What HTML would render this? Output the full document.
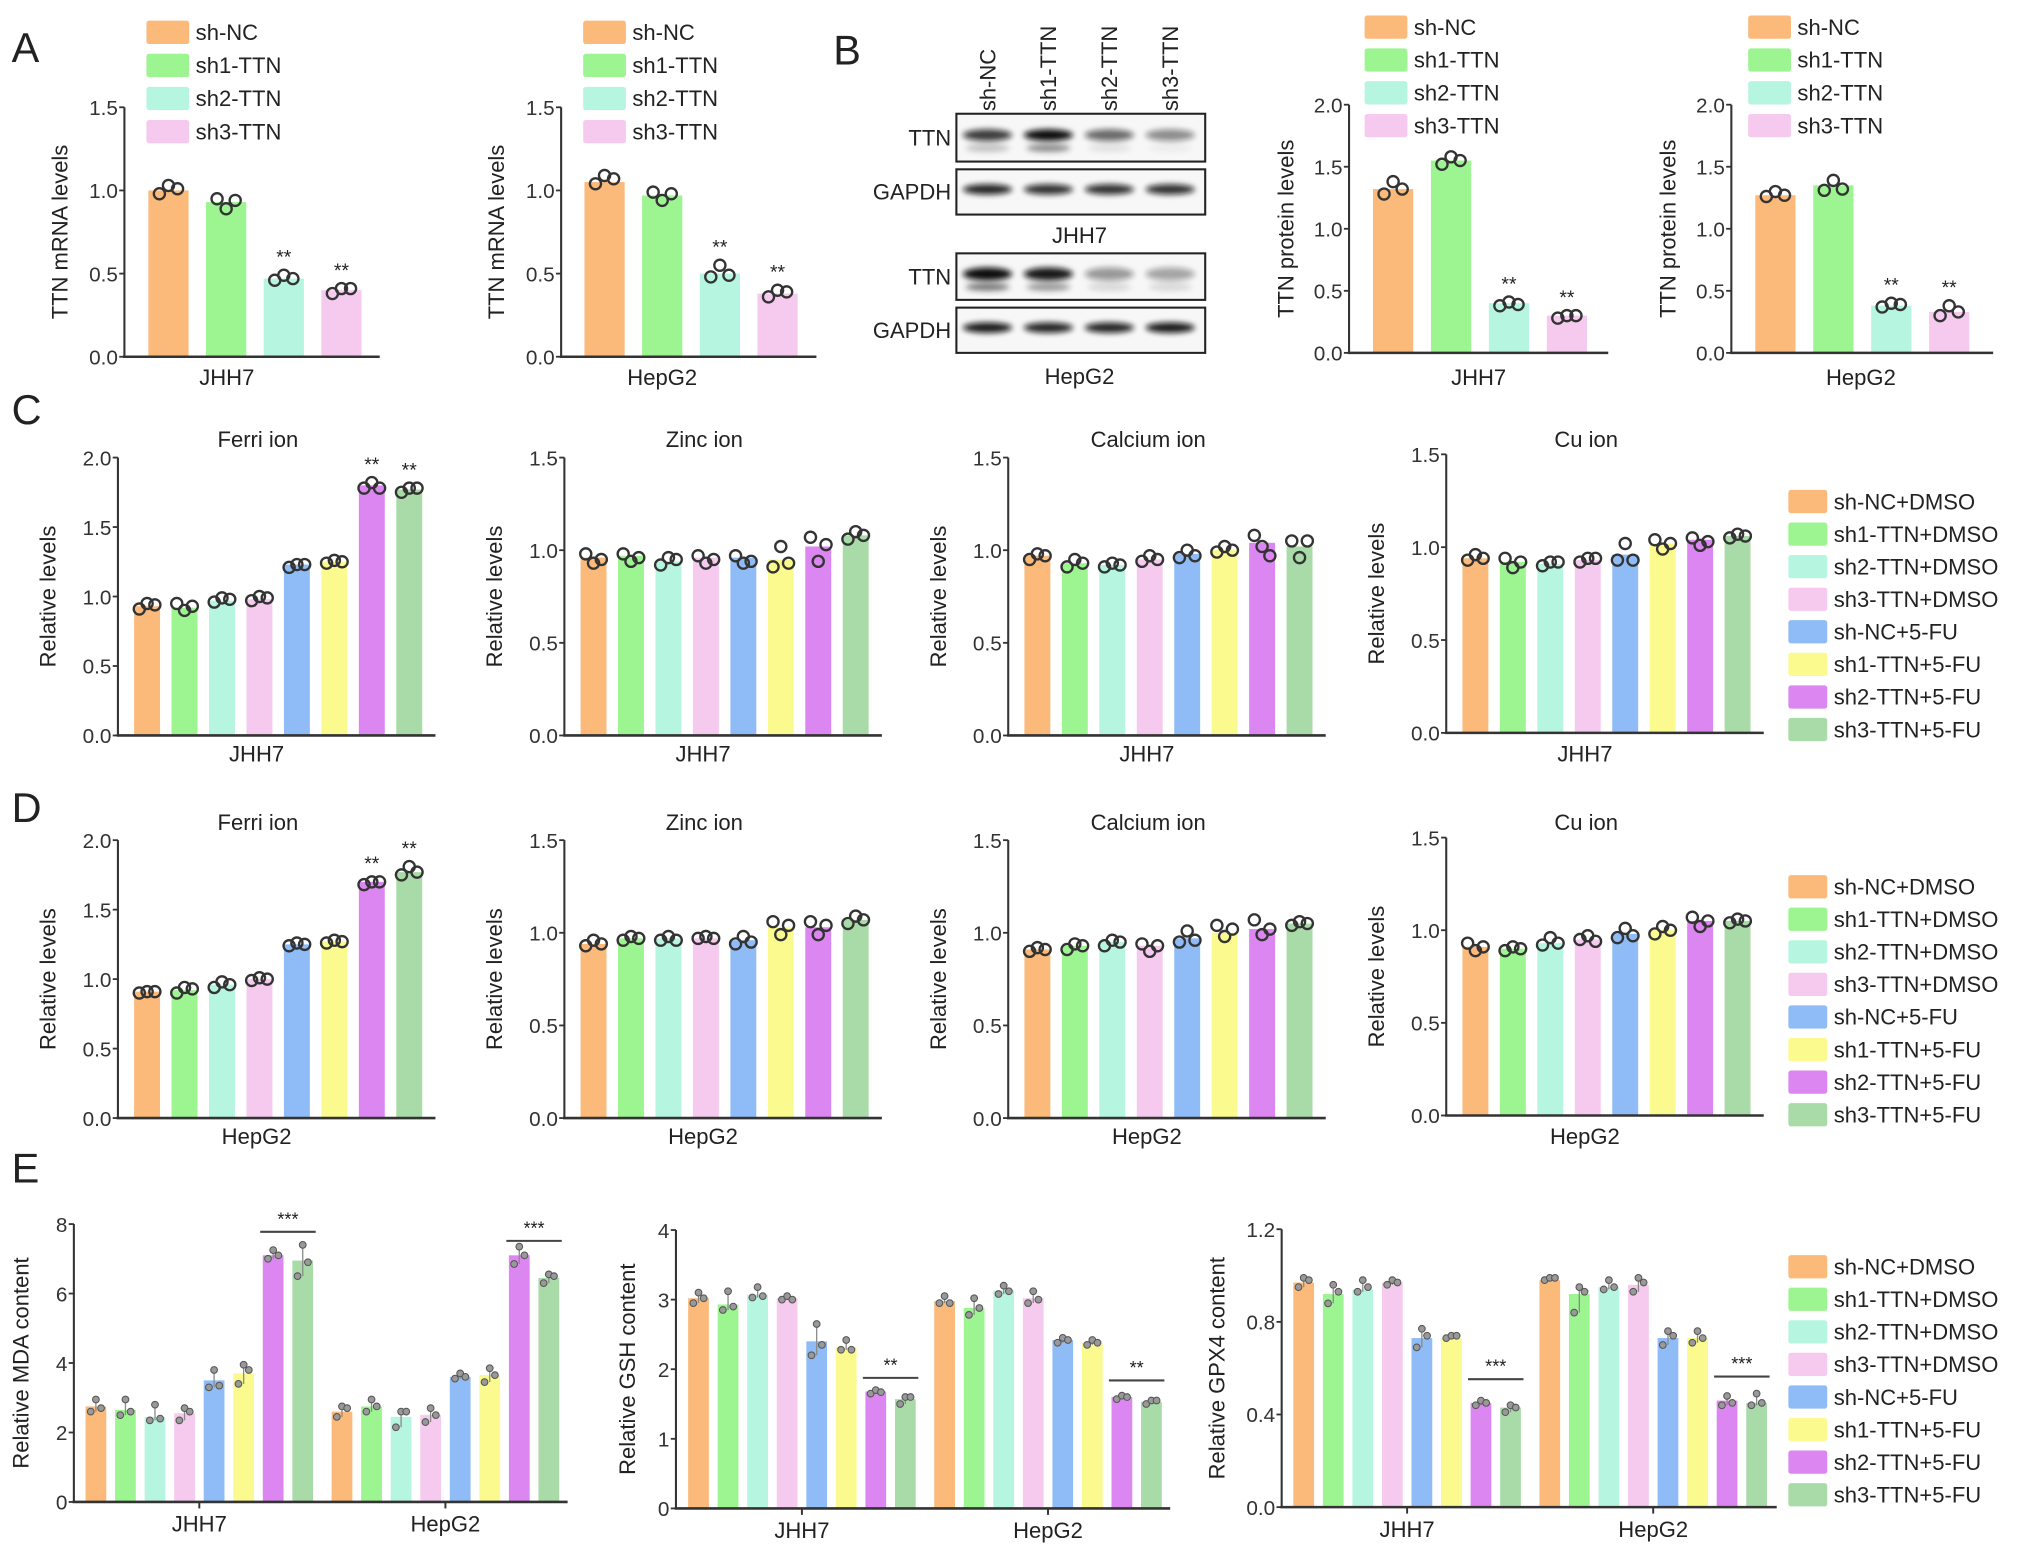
<!DOCTYPE html>
<html><head><meta charset="utf-8"><style>
html,body{margin:0;padding:0;background:#fff;}
svg{display:block;font-family:"Liberation Sans",Arial,sans-serif;}
</style></head><body>
<svg id="fig" width="2032" height="1564" viewBox="0 0 1568 1210" preserveAspectRatio="none" xmlns="http://www.w3.org/2000/svg">
<defs><filter id="blur" x="-30%" y="-80%" width="160%" height="260%"><feGaussianBlur stdDeviation="2.2"/></filter></defs>
</svg>
<script>
// ---------- data ----------
const groups4 = ["sh-NC","sh1-TTN","sh2-TTN","sh3-TTN"];
const groups8 = ["sh-NC+DMSO","sh1-TTN+DMSO","sh2-TTN+DMSO","sh3-TTN+DMSO","sh-NC+5-FU","sh1-TTN+5-FU","sh2-TTN+5-FU","sh3-TTN+5-FU"];
const colors = ["#fbb97a","#9cf590","#b6f5e0","#f6c9ef","#8fbcf6","#fafa8e","#dc86f2","#a9dba8"];

const aJHH7 = [1.0,0.93,0.47,0.40];
const aJHH7Pts = [[0.98,1.03,1.01],[0.95,0.89,0.94],[0.46,0.49,0.47],[0.38,0.41,0.41]];
const aHepG2 = [1.05,0.97,0.50,0.38];
const aHepG2Pts = [[1.04,1.09,1.07],[0.99,0.94,0.98],[0.48,0.55,0.49],[0.36,0.40,0.39]];
const bJHH7 = [1.32,1.55,0.40,0.30];
const bJHH7Pts = [[1.28,1.38,1.32],[1.52,1.58,1.55],[0.38,0.41,0.39],[0.28,0.30,0.30]];
const bHepG2 = [1.27,1.35,0.38,0.33];
const bHepG2Pts = [[1.26,1.30,1.27],[1.31,1.39,1.32],[0.37,0.40,0.39],[0.30,0.38,0.33]];

const cFerri = [0.93,0.92,0.97,0.98,1.23,1.25,1.80,1.77];
const cFerriPts = [[0.91,0.95,0.94],[0.95,0.90,0.93],[0.96,0.99,0.98],[0.97,1.00,0.99],[1.21,1.23,1.23],[1.24,1.26,1.25],[1.78,1.82,1.78],[1.75,1.78,1.78]];
const cZinc = [0.96,0.97,0.94,0.96,0.96,0.95,1.02,1.08];
const cZincPts = [[0.98,0.93,0.95],[0.98,0.94,0.96],[0.92,0.96,0.95],[0.97,0.93,0.95],[0.97,0.93,0.94],[0.91,1.02,0.93],[1.07,0.94,1.03],[1.06,1.10,1.08]];
const cCalcium = [0.97,0.93,0.92,0.95,0.98,1.00,1.04,1.02];
const cCalciumPts = [[0.95,0.98,0.97],[0.91,0.95,0.93],[0.91,0.93,0.92],[0.94,0.97,0.95],[0.96,1.00,0.97],[0.99,1.02,1.00],[1.08,1.02,0.97],[1.05,0.96,1.05]];
const cCu = [0.94,0.92,0.91,0.93,0.96,1.02,1.04,1.06];
const cCuPts = [[0.93,0.96,0.94],[0.94,0.89,0.92],[0.90,0.92,0.92],[0.92,0.94,0.94],[0.93,1.02,0.93],[1.04,0.99,1.02],[1.05,1.01,1.03],[1.05,1.07,1.06]];

const dFerri = [0.91,0.92,0.96,1.00,1.25,1.27,1.70,1.77];
const dFerriPts = [[0.90,0.91,0.91],[0.90,0.94,0.93],[0.94,0.98,0.96],[0.99,1.01,1.00],[1.24,1.26,1.25],[1.26,1.28,1.27],[1.68,1.70,1.70],[1.75,1.81,1.77]];
const dZinc = [0.94,0.97,0.97,0.97,0.96,1.03,1.03,1.07];
const dZincPts = [[0.93,0.96,0.94],[0.96,0.98,0.97],[0.96,0.98,0.96],[0.97,0.98,0.97],[0.94,0.98,0.95],[1.06,0.99,1.04],[1.06,0.99,1.04],[1.05,1.09,1.07]];
const dCalcium = [0.91,0.93,0.95,0.93,0.97,1.00,1.02,1.05];
const dCalciumPts = [[0.90,0.92,0.91],[0.91,0.94,0.93],[0.93,0.96,0.95],[0.94,0.90,0.93],[0.95,1.01,0.96],[1.04,0.98,1.02],[1.07,0.99,1.02],[1.04,1.06,1.05]];
const dCu = [0.91,0.90,0.93,0.95,0.98,1.00,1.05,1.05];
const dCuPts = [[0.93,0.89,0.91],[0.89,0.91,0.90],[0.92,0.96,0.93],[0.95,0.97,0.94],[0.96,1.01,0.97],[0.98,1.02,1.00],[1.07,1.02,1.05],[1.04,1.06,1.05]];

const eMDA = [2.75,2.65,2.45,2.55,3.50,3.70,7.10,6.95, 2.60,2.75,2.45,2.50,3.60,3.65,7.10,6.45];
const eMDAPts = [[2.6,2.95,2.7],[2.5,2.95,2.6],[2.35,2.8,2.4],[2.35,2.7,2.6],[3.3,3.8,3.35],[3.4,3.95,3.8],[7.0,7.25,7.1],[6.5,7.4,6.9],[2.45,2.75,2.7],[2.6,2.95,2.75],[2.15,2.6,2.6],[2.3,2.7,2.5],[3.55,3.7,3.6],[3.45,3.85,3.65],[6.85,7.35,7.1],[6.3,6.55,6.5]];
const eGSH = [3.02,2.93,3.07,3.02,2.40,2.32,1.68,1.57, 2.98,2.88,3.13,3.02,2.42,2.38,1.60,1.53];
const eGSHPts = [[2.95,3.1,3.02],[2.85,3.12,2.9],[3.03,3.18,3.05],[3.0,3.05,3.0],[2.2,2.65,2.35],[2.28,2.42,2.28],[1.65,1.7,1.67],[1.5,1.6,1.6],[2.95,3.05,2.95],[2.78,3.02,2.88],[3.08,3.2,3.12],[2.95,3.12,3.0],[2.38,2.45,2.42],[2.35,2.42,2.38],[1.57,1.62,1.6],[1.5,1.55,1.55]];
const eGPX4 = [0.97,0.92,0.94,0.97,0.73,0.73,0.45,0.43, 0.98,0.92,0.95,0.96,0.73,0.73,0.46,0.45];
const eGPX4Pts = [[0.95,0.99,0.98],[0.88,0.96,0.93],[0.93,0.98,0.95],[0.96,0.98,0.97],[0.69,0.77,0.74],[0.73,0.74,0.74],[0.44,0.46,0.45],[0.41,0.44,0.43],[0.98,0.99,0.99],[0.84,0.95,0.93],[0.94,0.98,0.95],[0.93,0.99,0.97],[0.70,0.76,0.74],[0.71,0.76,0.73],[0.44,0.48,0.45],[0.44,0.49,0.45]];

const ticks15 = [0,0.5,1.0,1.5];
const ticks20 = [0,0.5,1.0,1.5,2.0];
const ticksMDA = [0,2,4,6,8];
const ticksGSH = [0,1,2,3,4];
const ticksGPX4 = [0,0.4,0.8,1.2];
const xCats = ["JHH7","HepG2"];

// ---------- helpers ----------
const NS = "http://www.w3.org/2000/svg";
const svg = document.getElementById("fig");
function mk(tag, attrs, parent){
  const e = document.createElementNS(NS, tag);
  for (const k in attrs) e.setAttribute(k, attrs[k]);
  (parent || svg).appendChild(e);
  return e;
}
function tx(str, x, y, size, anchor, parent, extra){
  const a = {x:x, y:y, "font-size":size, "text-anchor":anchor||"middle", fill:"#222"};
  if (extra) for (const k in extra) a[k] = extra[k];
  const t = mk("text", a, parent);
  t.textContent = str;
  return t;
}
function fmt(v, dec){ return dec === 0 ? String(v) : v.toFixed(dec); }

function chart(c){
  const g = mk("g", {});
  
  
  const Y = v => c.yBot - v / c.max * (c.yBot - c.yTop);
  const X = i => c.first + i * c.step + (i >= 8 ? c.gap : 0);
  const ya = mk("line", {x1:c.ax, y1:c.yTop, x2:c.ax, y2:c.yBot, stroke:"#333", "stroke-width":1.6}, g);
  
  
  c.ticks.forEach(t => {
    mk("line", {x1:c.ax-4, y1:Y(t), x2:c.ax, y2:Y(t), stroke:"#333", "stroke-width":1.4}, g);
    const tl = tx(fmt(t, c.dec), c.ax-5, Y(t)+6, 16, "end", g, {fill:"#333"});
    
    
  });
  c.values.forEach((v, i) => {
    const b = mk("rect", {x:X(i)-c.bw/2, y:Y(v), width:c.bw, height:c.yBot-Y(v), fill:c.colors[i % c.colors.length]}, g);
    
    
  });
  c.pts.forEach((p, i) => {
    if (c.small) {
      const mn = Math.min(...p), mxv = Math.max(...p);
      mk("line", {x1:X(i), y1:Y(mn), x2:X(i), y2:Y(mxv), stroke:"#8a8a8a", "stroke-width":1}, g);
    }
    p.forEach((v, j) => {
      const off = (j - 1) * c.dx;
      const yy = Y(v);
      const d = c.small
        ? mk("circle", {cx:X(i)+off, cy:yy, r:2.6, fill:"#999", stroke:"#555", "stroke-width":0.8}, g)
        : mk("circle", {cx:X(i)+off, cy:yy, r:4.3, fill:"none", stroke:"#333", "stroke-width":1.8}, g);
      
      
    });
  });
  (c.stars || []).forEach(i => {
    const top = Math.max(...c.pts[i]);
    const s = tx("**", X(i), Y(top) - 9, 15, "middle", g);
    
    
  });
  const xa = mk("line", {x1:c.ax-1, y1:c.yBot, x2:c.end, y2:c.yBot, stroke:"#333", "stroke-width":2}, g);
  
  
  if (c.grouped) {
    [0, 1].forEach(k => {
      const cx = (X(k*8) + X(k*8+7)) / 2;
      mk("line", {x1:cx, y1:c.yBot, x2:cx, y2:c.yBot+5, stroke:"#333", "stroke-width":1.5}, g);
      const l = tx(xCats[k], cx, c.xlY, 17, "middle", g);
      
      
    });
  } else {
    const l = tx(c.xlabel, c.xlX, c.xlY, 17, "middle", g);
    
    
  }
  const yl = tx(c.ylabel, 0, 0, 17, "middle", g, {transform:"translate(" + c.ylX + "," + ((c.yTop + c.yBot)/2) + ") rotate(-90)"});
  
  
  if (c.title) {
    const tt = tx(c.title, c.titleX, c.titleY, 17, "middle", g);
    
    
  }
  (c.sig || []).forEach(s => {
    const x1 = X(s.i) - c.bw/2 - 2, x2 = X(s.i+1) + c.bw/2 + 2;
    mk("line", {x1:x1, y1:s.y, x2:x2, y2:s.y, stroke:"#444", "stroke-width":1.6}, g);
    const st = tx(s.t, (x1+x2)/2, s.y - 5, 14, "middle", g);
    
    
  });
  return g;
}

function legend(x, y, dy, sw, labels, cols, name){
  const g = mk("g", {});
  
  
  labels.forEach((l, i) => {
    const r = mk("rect", {x:x, y:y + i*dy - 9, width:sw, height:18, rx:2, fill:cols[i]}, g);
    
    
    const t = tx(l, x + sw + 5, y + i*dy + 6, 17, "start", g);
    
    
  });
}

function letter(s, x, y){
  const t = tx(s, x, y, 32, "start", svg);
  
  
}

letter("A", 9, 48); letter("B", 643, 50); letter("C", 9, 328); letter("D", 9, 636); letter("E", 9, 915);

// ---------- panel A ----------
chart({name:"chart-a-jhh7", ax:96, yTop:83, yBot:276, max:1.5, ticks:ticks15, dec:1, first:130, step:44.5, gap:0, bw:31, end:293, dx:7,
  values:aJHH7, pts:aJHH7Pts, colors:colors, cats:groups4, stars:[2,3], xlabel:"JHH7", xlX:175, xlY:298, ylabel:"TTN mRNA levels", ylX:52});
legend(113, 25, 25.6, 33, groups4, colors, "legend-a-jhh7");
chart({name:"chart-a-hepg2", ax:433, yTop:83, yBot:276, max:1.5, ticks:ticks15, dec:1, first:466.5, step:44.5, gap:0, bw:31, end:630, dx:7,
  values:aHepG2, pts:aHepG2Pts, colors:colors, cats:groups4, stars:[2,3], xlabel:"HepG2", xlX:511, xlY:298, ylabel:"TTN mRNA levels", ylX:389});
legend(450, 25, 25.6, 33, groups4, colors, "legend-a-hepg2");

// ---------- panel B charts ----------
chart({name:"chart-b-jhh7", ax:1041, yTop:81, yBot:273, max:2.0, ticks:ticks20, dec:1, first:1075, step:44.7, gap:0, bw:31, end:1241, dx:7,
  values:bJHH7, pts:bJHH7Pts, colors:colors, cats:groups4, stars:[2,3], xlabel:"JHH7", xlX:1141, xlY:298, ylabel:"TTN protein levels", ylX:998});
legend(1053, 21, 25.4, 33, groups4, colors, "legend-b-jhh7");
chart({name:"chart-b-hepg2", ax:1336, yTop:81, yBot:273, max:2.0, ticks:ticks20, dec:1, first:1370, step:44.7, gap:0, bw:31, end:1538, dx:7,
  values:bHepG2, pts:bHepG2Pts, colors:colors, cats:groups4, stars:[2,3], xlabel:"HepG2", xlX:1436, xlY:298, ylabel:"TTN protein levels", ylX:1293});
legend(1349, 21, 25.4, 33, groups4, colors, "legend-b-hepg2");

// ---------- western blot ----------
(function(){
  const g = mk("g", {});
  
  
  const lanes = [762, 809, 856, 903];
  groups4.forEach((l, i) => {
    const t = tx(l, 0, 0, 17, "start", g, {transform:"translate(" + (lanes[i]+6) + ",86) rotate(-90)"});
    
    
  });
  const boxes = [
    {y:88, h:37, lab:"TTN", band:[0.8,1,0.6,0.45], bh:7, extra:[0.25,0.5,0.1,0.05]},
    {y:131, h:35, lab:"GAPDH", band:[0.9,0.85,0.85,0.85], bh:6, extra:null},
    {y:196, h:36, lab:"TTN", band:[1,0.95,0.4,0.35], bh:8, extra:[0.6,0.45,0.15,0.15]},
    {y:238, h:35, lab:"GAPDH", band:[0.95,0.9,0.9,0.95], bh:6, extra:null}
  ];
  boxes.forEach(b => {
    const r = mk("rect", {x:738, y:b.y, width:192, height:b.h, fill:"#f7f7f7", stroke:"#222", "stroke-width":1.6}, g);
    
    
    const cy = b.y + b.h/2 - 2;
    b.band.forEach((o, i) => {
      mk("ellipse", {cx:lanes[i], cy:cy, rx:19, ry:b.bh/2+1, fill:"#111", opacity:o, filter:"url(#blur)"}, g);
      if (b.extra) mk("ellipse", {cx:lanes[i], cy:cy+10, rx:17, ry:3, fill:"#222", opacity:b.extra[i], filter:"url(#blur)"}, g);
    });
    const lt = tx(b.lab, 734, b.y + b.h/2 + 6, 17, "end", g);
    
    
  });
  const c1 = tx("JHH7", 833, 188, 17, "middle", g);
  
  
  const c2 = tx("HepG2", 833, 297, 17, "middle", g);
  
  
})();

// ---------- panels C & D ----------
const rowDefs = [
  {yTop:354, yBot:569, yTop4:351.5, yBot4:567, titleY:346, xlY:589, cell:"JHH7", sets:[[cFerri,cFerriPts],[cZinc,cZincPts],[cCalcium,cCalciumPts],[cCu,cCuPts]], tag:"c", legY:388},
  {yTop:650, yBot:865, yTop4:648, yBot4:863, titleY:642, xlY:885, cell:"HepG2", sets:[[dFerri,dFerriPts],[dZinc,dZincPts],[dCalcium,dCalciumPts],[dCu,dCuPts]], tag:"d", legY:686}
];
const ionTitles = ["Ferri ion","Zinc ion","Calcium ion","Cu ion"];
const ionAxes = [91, 435.5, 778, 1116];
rowDefs.forEach(r => {
  r.sets.forEach((s, k) => {
    const ax = ionAxes[k];
    chart({name:"chart-" + r.tag + "-" + ionTitles[k].split(" ")[0].toLowerCase(),
      ax:ax, yTop:k===3?r.yTop4:r.yTop, yBot:k===3?r.yBot4:r.yBot, max:k===0?2.0:1.5, ticks:k===0?ticks20:ticks15, dec:1,
      first:ax+22.5, step:28.9, gap:0, bw:20, end:ax+245, dx:6,
      values:s[0], pts:s[1], colors:colors, cats:groups8, stars:k===0?[6,7]:[],
      xlabel:r.cell, xlX:ax+107, xlY:r.xlY, ylabel:"Relative levels", ylX:ax-48,
      title:ionTitles[k], titleX:ax+108, titleY:r.titleY});
  });
  legend(1380, r.legY, 25.2, 30, groups8, colors, "legend-" + r.tag);
});

// ---------- panel E ----------
chart({name:"chart-e-mda", ax:57, yTop:947, yBot:1162, max:8, ticks:ticksMDA, dec:0, first:74, step:22.8, gap:7.5, bw:16, end:438, dx:4, small:true, grouped:true,
  values:eMDA, pts:eMDAPts, colors:colors, cats:groups8, xlY:1185, ylabel:"Relative MDA content", ylX:22,
  sig:[{i:6, y:953, t:"***"},{i:14, y:960, t:"***"}]});
chart({name:"chart-e-gsh", ax:521.6, yTop:951.6, yBot:1167, max:4, ticks:ticksGSH, dec:0, first:539, step:22.8, gap:7.5, bw:16, end:903, dx:4, small:true, grouped:true,
  values:eGSH, pts:eGSHPts, colors:colors, cats:groups8, xlY:1190, ylabel:"Relative GSH content", ylX:490,
  sig:[{i:6, y:1066, t:"**"},{i:14, y:1068, t:"**"}]});
chart({name:"chart-e-gpx4", ax:989, yTop:951, yBot:1166, max:1.2, ticks:ticksGPX4, dec:1, first:1006, step:22.8, gap:7.5, bw:16, end:1371, dx:4, small:true, grouped:true,
  values:eGPX4, pts:eGPX4Pts, colors:colors, cats:groups8, xlY:1189, ylabel:"Relative GPX4 content", ylX:945,
  sig:[{i:6, y:1067, t:"***"},{i:14, y:1065, t:"***"}]});
legend(1380, 980, 25.2, 30, groups8, colors, "legend-e");
</script>
</body></html>
